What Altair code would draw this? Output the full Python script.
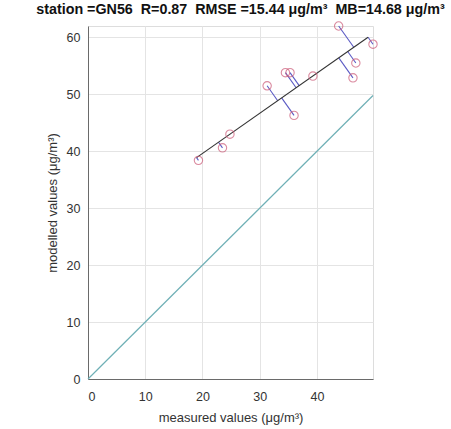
import altair as alt
import numpy as np
import pandas as pd

measured = [19.3, 23.5, 24.8, 31.3, 34.5, 35.3, 36.0, 39.3, 43.8, 46.8, 46.3, 49.8]
modelled = [38.4, 40.6, 43.0, 51.5, 53.8, 53.8, 46.3, 53.2, 62.0, 55.5, 52.9, 58.8]
x_ticks = [0, 10, 20, 30, 40]
y_ticks = [0, 10, 20, 30, 40, 50, 60]
title_text = "station =GN56\u00a0\u00a0R=0.87\u00a0\u00a0RMSE =15.44 μg/m³\u00a0\u00a0MB=14.68 μg/m³"

x = np.array(measured)
y = np.array(modelled)
# orthogonal (total least squares) fit
mx, my = x.mean(), y.mean()
cov = np.cov(np.vstack([x - mx, y - my]))
w, v = np.linalg.eigh(cov)
d = v[:, np.argmax(w)]
t = (x - mx) * d[0] + (y - my) * d[1]
fx = mx + t * d[0]
fy = my + t * d[1]

pts = pd.DataFrame({"x": x, "y": y, "fx": fx, "fy": fy})
fit = pd.DataFrame({"x": [fx.min(), fx.max()], "y": [fy[np.argmin(fx)], fy[np.argmax(fx)]]})
xmax = float(x.max())
ymax = float(y.max())
one = pd.DataFrame({"x": [0, xmax], "y": [0, xmax]})

xs = alt.Scale(domain=[0, xmax], nice=False, zero=False)
ys = alt.Scale(domain=[0, ymax], nice=False, zero=False)

xaxis = alt.Axis(values=x_ticks, title="measured values (μg/m³)", grid=True,
                 gridColor="#e4e4e4", domainColor="#6a6a6a", ticks=False,
                 labelFontSize=12.5, labelColor="#333333", labelPadding=11,
                 titleFontSize=13, titleFontWeight="normal", titleColor="#333333",
                 titlePadding=9, labelFont="Liberation Sans", titleFont="Liberation Sans")
yaxis = alt.Axis(values=y_ticks, title="modelled values (μg/m³)", grid=True,
                 gridColor="#e4e4e4", domainColor="#6a6a6a", ticks=False,
                 labelFontSize=12.5, labelColor="#333333", labelPadding=8,
                 titleFontSize=13, titleFontWeight="normal", titleColor="#333333",
                 titlePadding=7, labelFont="Liberation Sans", titleFont="Liberation Sans")

base_one = alt.Chart(one).mark_line(color="#6fb0b6", strokeWidth=1.2).encode(
    x=alt.X("x:Q", scale=xs, axis=xaxis), y=alt.Y("y:Q", scale=ys, axis=yaxis))

resid = alt.Chart(pts).mark_rule(color="#5a5ac4", strokeWidth=1.1).encode(
    x="x:Q", y="y:Q", x2="fx:Q", y2="fy:Q")

fitline = alt.Chart(fit).mark_line(color="#333333", strokeWidth=1.1).encode(
    x="x:Q", y="y:Q")

circles = alt.Chart(pts).mark_point(shape="circle", size=70, filled=False,
                                     color="#cc5a78", strokeWidth=1.1).encode(
    x="x:Q", y="y:Q")

chart = alt.layer(base_one, resid, fitline, circles).properties(
    width=285, height=353,
    title=alt.TitleParams(title_text, fontSize=14.3, fontWeight="bold",
                          font="Liberation Sans", color="#111111", anchor="middle",
                          offset=2, dx=10),
    autosize=alt.AutoSizeParams(type="none"),
    padding={"left": 88, "top": 26, "right": 78, "bottom": 50},
).configure_view(stroke="#6a6a6a", strokeWidth=1).configure(background="white")

chart.save("out.html", embed_options={"renderer": "svg", "actions": False})
